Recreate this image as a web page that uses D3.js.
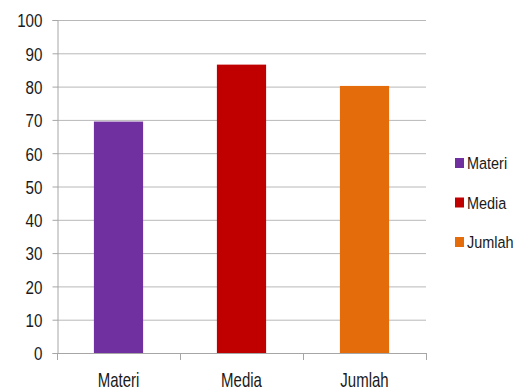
<!DOCTYPE html>
<html lang="en">
<head>
<meta charset="UTF-8">
<title>Bar chart</title>
<script src="https://d3js.org/d3.v7.min.js"></script>
<style>
  body, html { margin: 0; padding: 0; overflow: hidden; background: #fff; }
  svg { display: block; }
  text { font-family: "Liberation Sans", Arial, sans-serif; fill: #1a1a1a; }
</style>
</head>
<body>
<svg width="527" height="392"></svg>
<script>
const categories = ["Materi", "Media", "Jumlah"];
const values = [69.5, 86.6, 80.2];
const colors = ["#7030A0", "#C00000", "#E46C0A"];
const yTicks = [0, 10, 20, 30, 40, 50, 60, 70, 80, 90, 100];

const svg = d3.select("svg");
const mLeft = 57, mRight = 426, mTop = 20, mBottom = 353;

const x = d3.scaleBand().domain(categories).range([mLeft, mRight]).paddingInner(0.6).paddingOuter(0.3);
const y = d3.scaleLinear().domain([0, 100]).range([mBottom, mTop]);

// narrow text: place at (px,py) and squeeze horizontally
function narrow(sel, px, py, sx) {
  sel.attr("x", 0).attr("y", 0)
    .attr("transform", (d, i) => `translate(${px(d, i)},${py(d, i)}) scale(${sx},1)`);
}

// gridlines
svg.append("g").selectAll("line").data(yTicks.filter(d => d > 0)).enter().append("line")
  .attr("x1", mLeft).attr("x2", mRight)
  .attr("y1", d => y(d) + 0.5).attr("y2", d => y(d) + 0.5)
  .attr("stroke", "#b8b8b8").attr("stroke-width", 1);

// bars
svg.append("g").selectAll("rect").data(categories).enter().append("rect")
  .attr("x", d => x(d))
  .attr("width", x.bandwidth())
  .attr("y", (d, i) => y(values[i]))
  .attr("height", (d, i) => mBottom - y(values[i]))
  .attr("fill", (d, i) => colors[i]);

// y axis
const yAxis = svg.append("g").attr("transform", `translate(${mLeft + 0.5},0)`)
  .call(d3.axisLeft(y).tickValues(yTicks).tickSize(5));
yAxis.select(".domain").attr("stroke", "#a6a6a6");
yAxis.selectAll(".tick line").attr("stroke", "#a6a6a6");
yAxis.selectAll(".tick text")
  .style("font-size", "19px").attr("fill", "#1a1a1a").attr("dy", "0.36em")
  .call(narrow, () => -15, () => 0, 0.8);

// x axis line
const xb = d3.scalePoint().domain([0, 1, 2, 3]).range([mLeft, mRight]);
svg.append("line").attr("x1", mLeft).attr("x2", mRight)
  .attr("y1", mBottom + 0.5).attr("y2", mBottom + 0.5).attr("stroke", "#a6a6a6");
svg.append("g").selectAll("line").data([0, 1, 2, 3]).enter().append("line")
  .attr("x1", d => xb(d) + 0.5).attr("x2", d => xb(d) + 0.5)
  .attr("y1", mBottom).attr("y2", mBottom + 7).attr("stroke", "#a6a6a6");

svg.append("g").selectAll("text").data(categories).enter().append("text")
  .attr("text-anchor", "middle")
  .style("font-size", "20px")
  .text(d => d)
  .call(narrow, d => x(d) + x.bandwidth() / 2, () => 387, 0.75);

// legend
const lg = svg.append("g").selectAll("g").data(categories).enter().append("g")
  .attr("transform", (d, i) => `translate(455,${158 + i * 39.5})`);
lg.append("rect").attr("x", 0).attr("y", 0).attr("width", 9).attr("height", 10)
  .attr("fill", (d, i) => colors[i]);
lg.append("text").style("font-size", "17px").text(d => d)
  .call(narrow, () => 12, () => 11, 0.85);
</script>
</body>
</html>
